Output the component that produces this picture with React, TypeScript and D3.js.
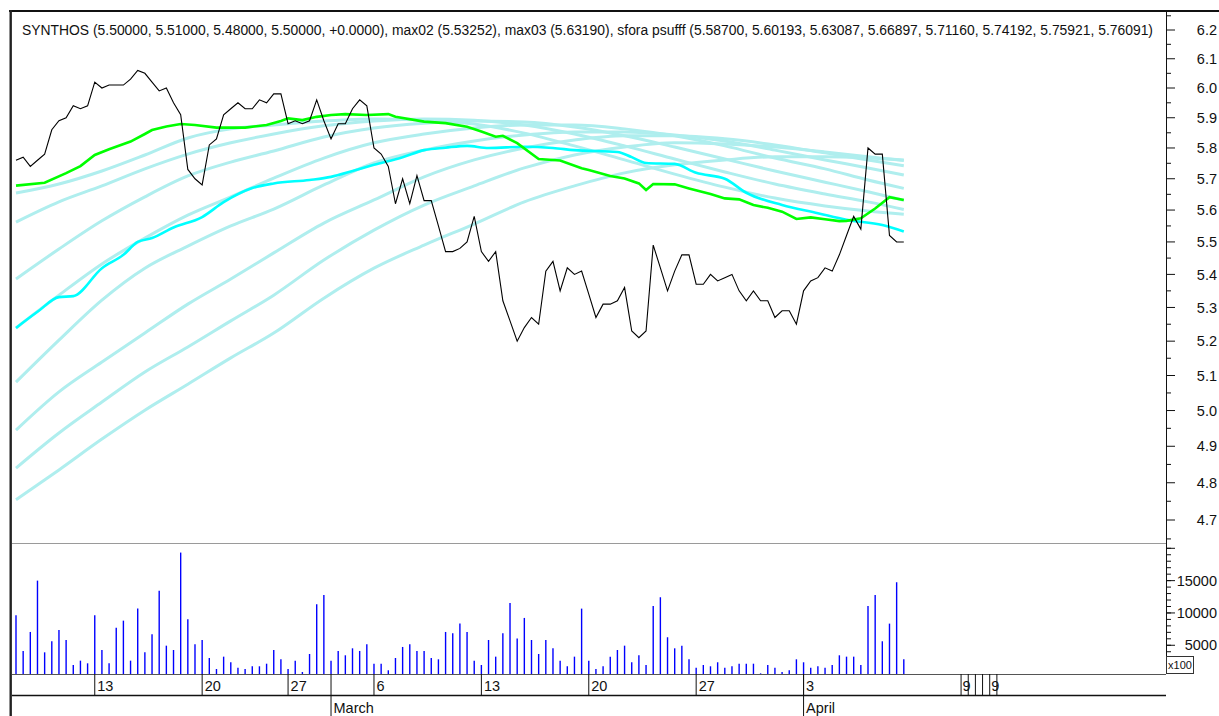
import React from 'react';
import * as d3 from 'd3';

const W = 1219;
const H = 716;

// ---- data ----
const titleText =
  'SYNTHOS (5.50000, 5.51000, 5.48000, 5.50000, +0.0000), max02 (5.53252), max03 (5.63190), sfora psufff (5.58700, 5.60193, 5.63087, 5.66897, 5.71160, 5.74192, 5.75921, 5.76091)';

const closes = [
  5.76, 5.77, 5.74, 5.76, 5.78, 5.86, 5.89, 5.90, 5.94, 5.93,
  5.94, 6.02, 6.00, 6.01, 6.01, 6.01, 6.03, 6.06, 6.05, 6.02,
  5.99, 6.00, 5.95, 5.91, 5.73, 5.70, 5.68, 5.81, 5.83, 5.91,
  5.93, 5.95, 5.93, 5.93, 5.96, 5.95, 5.98, 5.98, 5.88, 5.89,
  5.88, 5.89, 5.96, 5.89, 5.83, 5.88, 5.88, 5.93, 5.96, 5.94,
  5.80, 5.78, 5.74, 5.62, 5.70, 5.62, 5.71, 5.63, 5.63, 5.55,
  5.47, 5.47, 5.48, 5.50, 5.58, 5.47, 5.44, 5.47, 5.32, 5.26,
  5.20, 5.24, 5.27, 5.25, 5.41, 5.44, 5.35, 5.42, 5.40, 5.41,
  5.34, 5.27, 5.31, 5.31, 5.32, 5.36, 5.23, 5.21, 5.23, 5.49,
  5.42, 5.35, 5.41, 5.46, 5.46, 5.37, 5.37, 5.40, 5.38, 5.39,
  5.40, 5.35, 5.32, 5.35, 5.32, 5.32, 5.27, 5.29, 5.29, 5.25,
  5.35, 5.38, 5.39, 5.42, 5.41, 5.46, 5.52, 5.58, 5.54, 5.80,
  5.78, 5.78, 5.52, 5.50, 5.50,
];

// volume in units of x100
const volumes = [
  9640, 4120, 7060, 15000, 3910, 5620, 7370, 5820, 1950, 2620,
  2210, 9640, 4270, 2210, 7730, 8810, 2620, 10670, 3910, 6700,
  13450, 4940, 4270, 19340, 9020, 5150, 5820, 3030, 1330, 3240,
  2370, 1530, 1330, 1750, 1750, 2150, 4270, 2830, 1330, 2620,
  870, 3650, 11340, 12790, 2620, 4120, 3450, 4530, 4120, 5150,
  2150, 2150, 1130, 3030, 4740, 5150, 4120, 4120, 3030, 2830,
  7060, 6860, 8350, 7060, 2620, 1950, 5820, 3240, 6860, 11550,
  6030, 9230, 5820, 3650, 5820, 4530, 2620, 1750, 3240, 10670,
  2620, 1330, 1750, 3240, 4270, 4940, 2370, 3450, 1950, 11080,
  12430, 6240, 4530, 4940, 2830, 1530, 1950, 1750, 2370, 1530,
  1750, 2150, 2150, 2150, 660, 1950, 1530, 870, 1130, 2830,
  2370, 1530, 1750, 1530, 1950, 3450, 3240, 3240, 1950, 11080,
  12790, 5620, 8350, 14750, 2830,
];

// max03 (green) samples: bar index / value
const max03Idx = [0, 4, 7, 9, 11, 13, 16, 18, 19, 21, 23, 25, 28, 32, 35, 37, 38, 40, 42, 44, 46, 49, 52, 53, 57, 60, 63, 65, 67, 68, 70, 73, 76, 79, 80, 83, 85, 87, 88, 89, 92, 94, 97, 99, 101, 103, 105, 107, 109, 111, 113, 115, 116, 118, 120, 122, 124];
const max03Val = [5.678, 5.687, 5.718, 5.741, 5.777, 5.796, 5.821, 5.846, 5.859, 5.871, 5.879, 5.876, 5.867, 5.867, 5.876, 5.889, 5.898, 5.892, 5.903, 5.909, 5.912, 5.909, 5.912, 5.903, 5.887, 5.882, 5.870, 5.854, 5.837, 5.840, 5.816, 5.764, 5.759, 5.734, 5.728, 5.709, 5.701, 5.685, 5.664, 5.683, 5.682, 5.669, 5.651, 5.637, 5.634, 5.616, 5.607, 5.595, 5.572, 5.577, 5.571, 5.565, 5.566, 5.574, 5.605, 5.641, 5.6319];

// max02 (cyan) samples
const max02Idx = [0, 3, 6, 8, 12, 15, 17, 19, 22, 26, 29, 33, 36, 41, 44, 47, 50, 54, 57, 60, 63, 66, 71, 75, 78, 84, 86, 88, 92, 95, 99, 102, 107, 112, 116, 121, 124];
const max02Val = [5.239, 5.287, 5.331, 5.334, 5.419, 5.46, 5.500, 5.512, 5.545, 5.578, 5.625, 5.670, 5.685, 5.696, 5.706, 5.725, 5.745, 5.77, 5.793, 5.801, 5.807, 5.800, 5.804, 5.800, 5.793, 5.787, 5.770, 5.751, 5.748, 5.719, 5.700, 5.655, 5.616, 5.590, 5.569, 5.553, 5.5325];

// sfora psufff ribbon (8 pale lines), shared sample indices
const ribbonIdx = [0, 6, 12, 18, 24, 30, 36, 43, 50, 57, 64, 71, 78, 85, 92, 99, 106, 113, 119, 124];
const sfora1 = [5.654, 5.683, 5.725, 5.777, 5.833, 5.863, 5.876, 5.889, 5.896, 5.892, 5.879, 5.849, 5.807, 5.761, 5.715, 5.673, 5.638, 5.613, 5.597, 5.587];
const sfora2 = [5.562, 5.626, 5.677, 5.732, 5.780, 5.817, 5.846, 5.873, 5.889, 5.896, 5.892, 5.876, 5.846, 5.807, 5.764, 5.722, 5.683, 5.651, 5.626, 5.602];
const sfora3 = [5.386, 5.478, 5.566, 5.642, 5.709, 5.754, 5.790, 5.836, 5.866, 5.882, 5.889, 5.886, 5.869, 5.840, 5.803, 5.764, 5.725, 5.689, 5.658, 5.631];
const sfora4 = [5.239, 5.337, 5.432, 5.512, 5.584, 5.642, 5.702, 5.767, 5.817, 5.846, 5.866, 5.876, 5.876, 5.863, 5.840, 5.807, 5.767, 5.732, 5.696, 5.669];
const sfora5 = [5.081, 5.203, 5.322, 5.419, 5.487, 5.550, 5.603, 5.680, 5.751, 5.793, 5.823, 5.843, 5.853, 5.853, 5.843, 5.823, 5.793, 5.761, 5.735, 5.712];
const sfora6 = [4.945, 5.053, 5.139, 5.224, 5.310, 5.386, 5.466, 5.559, 5.632, 5.706, 5.761, 5.800, 5.826, 5.840, 5.840, 5.830, 5.810, 5.784, 5.761, 5.742];
const sfora7 = [4.840, 4.937, 5.024, 5.110, 5.183, 5.260, 5.337, 5.444, 5.537, 5.616, 5.677, 5.735, 5.777, 5.803, 5.817, 5.813, 5.803, 5.787, 5.771, 5.759];
const sfora8 = [4.754, 4.835, 4.920, 5.001, 5.075, 5.151, 5.224, 5.328, 5.419, 5.490, 5.556, 5.626, 5.677, 5.719, 5.745, 5.761, 5.771, 5.771, 5.767, 5.761];

// axis ticks
const priceMajor = [4.7, 4.8, 4.9, 5.0, 5.1, 5.2, 5.3, 5.4, 5.5, 5.6, 5.7, 5.8, 5.9, 6.0, 6.1, 6.2];
const priceMinor = [4.65, 4.75, 4.85, 4.95, 5.05, 5.15, 5.25, 5.35, 5.45, 5.55, 5.65, 5.75, 5.85, 5.95, 6.05, 6.15, 6.25];
const volMajor = [5000, 10000, 15000, 20000];
const volLabels = [5000, 10000, 15000];
const volMinor = d3.range(1000, 20001, 1000);

const dayTickIdx = [11, 26, 38, 50, 65, 80, 95, 110];
const dayTickLabels = ['13', '20', '27', '6', '13', '20', '27', '3'];
const monthTickIdx = [44, 110];
const monthTickLabels = ['March', 'April'];
const futureTickIdx = [132, 133, 134, 135, 136, 137];
const futureTickLabels = ['9', '', '', '', '9', ''];

const FONT = "'Liberation Sans', Arial, sans-serif";

export default function App() {
  const x = d3.scaleLinear().domain([0, 124]).range([16, 903.8]);
  const y = d3.scaleLog().domain([4.7, 6.2]).range([520, 30]);
  const yv = d3.scaleLinear().domain([0, 20000]).range([677.6, 548.3]);

  const AXIS_X = 1166;
  const VOL_BASE = 674;

  const smooth = d3
    .line<[number, number]>()
    .x((d) => x(d[0]))
    .y((d) => y(d[1]))
    .curve(d3.curveMonotoneX);
  const straight = d3
    .line<[number, number]>()
    .x((d) => x(d[0]))
    .y((d) => y(d[1]));

  const ribbon = [sfora1, sfora2, sfora3, sfora4, sfora5, sfora6, sfora7, sfora8];
  const pairs = (idx: number[], vals: number[]) => idx.map((i, k) => [i, vals[k]] as [number, number]);

  return (
    <svg
      width={W}
      height={H}
      style={{ position: 'absolute', left: 0, top: 0, background: '#fff' }}
      fontFamily={FONT}
    >
      <defs>
        <clipPath id="mainClip">
          <rect x={12} y={12} width={AXIS_X - 12} height={531} />
        </clipPath>
      </defs>
      <rect x={0} y={0} width={W} height={H} fill="#fff" />

      {/* main panel lines */}
      <g clipPath="url(#mainClip)" fill="none">
        {ribbon.map((vals, k) => (
          <path key={k} d={smooth(pairs(ribbonIdx, vals)) || ''} stroke="#afeeee" strokeWidth={3} />
        ))}
        <path d={smooth(pairs(max02Idx, max02Val)) || ''} stroke="#00ffff" strokeWidth={2.6} />
        <path d={straight(pairs(max03Idx, max03Val)) || ''} stroke="#00ff00" strokeWidth={2.6} />
        <path
          d={straight(closes.map((c, i) => [i, c] as [number, number])) || ''}
          stroke="#000"
          strokeWidth={1.1}
        />
      </g>

      {/* title */}
      <text x={22} y={35} fontSize={13.8} fill="#111" textLength={1131} lengthAdjust="spacingAndGlyphs">
        {titleText}
      </text>

      {/* volume bars */}
      <g stroke="#0000ff" strokeWidth={1.4}>
        {volumes.map((v, i) => (
          <line key={i} x1={x(i)} x2={x(i)} y1={VOL_BASE} y2={yv(v)} />
        ))}
      </g>

      {/* panel separators */}
      <line x1={12} x2={AXIS_X} y1={543.5} y2={543.5} stroke="#9a9a9a" strokeWidth={1} />
      <line x1={12} x2={AXIS_X} y1={674.5} y2={674.5} stroke="#555" strokeWidth={1} />
      <line x1={12} x2={AXIS_X} y1={695.5} y2={695.5} stroke="#111" strokeWidth={1.5} />

      {/* frame */}
      <line x1={9} x2={W} y1={11} y2={11} stroke="#111" strokeWidth={2} />
      <line x1={10.7} x2={10.7} y1={10} y2={H} stroke="#222" strokeWidth={2.4} />

      {/* right axis */}
      <line x1={AXIS_X + 0.5} x2={AXIS_X + 0.5} y1={12} y2={VOL_BASE} stroke="#111" strokeWidth={1} />
      {priceMinor.map((v) => (
        <line key={'pm' + v} x1={AXIS_X} x2={AXIS_X + 5} y1={y(v)} y2={y(v)} stroke="#111" />
      ))}
      {priceMajor.map((v) => (
        <g key={'pM' + v}>
          <line x1={AXIS_X} x2={AXIS_X + 9} y1={y(v)} y2={y(v)} stroke="#111" />
          <text x={1217} y={y(v)} dy="0.36em" textAnchor="end" fontSize={14.5} fill="#111">
            {v.toFixed(1)}
          </text>
        </g>
      ))}
      {volMinor.map((v) => (
        <line key={'vm' + v} x1={AXIS_X} x2={AXIS_X + 5} y1={yv(v)} y2={yv(v)} stroke="#111" />
      ))}
      {volMajor.map((v) => (
        <line key={'vM' + v} x1={AXIS_X} x2={AXIS_X + 9} y1={yv(v)} y2={yv(v)} stroke="#111" />
      ))}
      {volLabels.map((v) => (
        <text key={'vl' + v} x={1217} y={yv(v)} dy="0.36em" textAnchor="end" fontSize={14.5} fill="#111">
          {v}
        </text>
      ))}
      <rect x={1166.5} y={656.5} width={27} height={17} fill="#fff" stroke="#333" strokeWidth={1} />
      <text x={1180} y={665} dy="0.36em" textAnchor="middle" fontSize={11} fill="#111">
        x100
      </text>

      {/* date axis */}
      {dayTickIdx.map((i, k) => (
        <g key={'d' + k}>
          <line x1={x(i)} x2={x(i)} y1={674} y2={695} stroke="#111" strokeWidth={1} />
          <text x={x(i) + 2.5} y={691} fontSize={14.5} fill="#111">
            {dayTickLabels[k]}
          </text>
        </g>
      ))}
      {monthTickIdx.map((i, k) => (
        <g key={'m' + k}>
          <line x1={x(i)} x2={x(i)} y1={674} y2={H} stroke="#111" strokeWidth={1} />
          <text x={x(i) + 2.5} y={712.5} fontSize={14.5} fill="#111">
            {monthTickLabels[k]}
          </text>
        </g>
      ))}
      {futureTickIdx.map((i, k) => (
        <g key={'f' + k}>
          <line x1={x(i)} x2={x(i)} y1={674} y2={695} stroke="#111" strokeWidth={1} />
          {futureTickLabels[k] ? (
            <text x={x(i) + 1.5} y={691} fontSize={14.5} fill="#111">
              {futureTickLabels[k]}
            </text>
          ) : null}
        </g>
      ))}
    </svg>
  );
}
